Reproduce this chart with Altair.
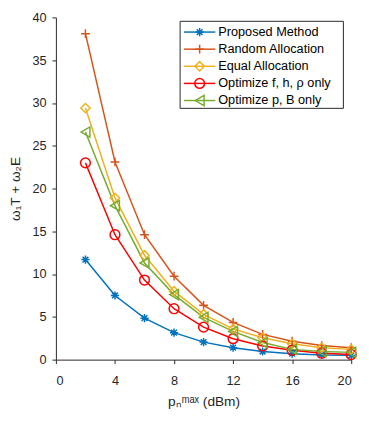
import altair as alt
import pandas as pd

x_vals = [2, 4, 6, 8, 10, 12, 14, 16, 18, 20]
series_names = ["Proposed Method", "Random Allocation", "Equal Allocation",
                "Optimize f, h,  \u03c1 only", "Optimize p, B only"]
proposed = [11.7, 7.5, 4.85, 3.15, 2.05, 1.4, 0.95, 0.7, 0.55, 0.5]
random_alloc = [38.1, 23.1, 14.6, 9.75, 6.35, 4.35, 2.95, 2.15, 1.65, 1.4]
equal_alloc = [29.4, 18.9, 12.2, 8.0, 5.3, 3.6, 2.55, 1.85, 1.4, 1.2]
opt_fhr = [23.0, 14.6, 9.3, 5.95, 3.8, 2.45, 1.6, 1.1, 0.75, 0.6]
opt_pb = [26.6, 18.0, 11.3, 7.6, 4.95, 3.3, 2.0, 1.2, 0.95, 0.85]
x_ticks = [0, 4, 8, 12, 16, 20]
y_ticks = [0, 5, 10, 15, 20, 25, 30, 35, 40]

colors = ["#0072BD", "#D95319", "#EDB120", "#FF0000", "#77AC30"]
asterisk = "M-1,0L1,0M0,-1L0,1M-0.7,-0.7L0.7,0.7M-0.7,0.7L0.7,-0.7"
plus = "M-1,0L1,0M0,-1L0,1"
shapes = [asterisk, plus, "diamond", "circle", "triangle-left"]
sizes = [70, 110, 110, 70, 80]

W, H = 302, 350
XMAX, YMAX = 20, 40

rows = []
for name, vals in zip(series_names, [proposed, random_alloc, equal_alloc, opt_fhr, opt_pb]):
    for xv, yv in zip(x_vals, vals):
        rows.append({"x": xv, "y": yv, "series": name})
df = pd.DataFrame(rows)

xs = alt.Scale(domain=[0, XMAX], nice=False, zero=False)
ys = alt.Scale(domain=[0, YMAX], nice=False, zero=False)
cscale = alt.Scale(domain=series_names, range=colors)
sscale = alt.Scale(domain=series_names, range=shapes)
zscale = alt.Scale(domain=series_names, range=sizes)

font = "Liberation Sans"
axis_col = "#262626"

base = alt.Chart(df)
lines = base.mark_line(strokeWidth=1.5).encode(
    x=alt.X("x:Q", scale=xs,
            axis=alt.Axis(values=x_ticks, grid=False, tickSize=4, labelPadding=11,
                          title="p\u2099\u1d50\u1d43\u02e3 (dBm)", titlePadding=8)),
    y=alt.Y("y:Q", scale=ys,
            axis=alt.Axis(values=y_ticks, grid=False, tickSize=4, labelPadding=6,
                          title="\u03c9\u2081T + \u03c9\u2082E", titlePadding=10)),
    color=alt.Color("series:N", scale=cscale, legend=None),
    detail="series:N",
)
points = base.mark_point(filled=False, strokeWidth=1.5, opacity=1).encode(
    x=alt.X("x:Q", scale=xs),
    y=alt.Y("y:Q", scale=ys),
    color=alt.Color("series:N", scale=cscale, legend=None),
    shape=alt.Shape("series:N", scale=sscale, legend=None),
    size=alt.Size("series:N", scale=zscale, legend=None),
)

# legend (built in data units)
def xu(px):
    return px / W * XMAX

def yu(py):
    return YMAX * (1 - py / H)

bx0, bx1, by0, by1 = 127, 294, 4, 93
row_y = [15 + 17.5 * i for i in range(5)]
leg = pd.DataFrame({
    "series": series_names,
    "lx0": [xu(131)] * 5, "lx1": [xu(163)] * 5, "mx": [xu(147)] * 5,
    "tx": [xu(166)] * 5, "ly": [yu(r) for r in row_y],
})
box = alt.Chart(pd.DataFrame({"a": [xu(bx0)], "b": [xu(bx1)], "c": [yu(by0)], "d": [yu(by1)]})).mark_rect(
    fill="white", stroke=axis_col, strokeWidth=1).encode(
    x=alt.X("a:Q", scale=xs), x2="b:Q", y=alt.Y("c:Q", scale=ys), y2="d:Q")
lb = alt.Chart(leg)
leg_lines = lb.mark_rule(strokeWidth=1.5).encode(
    x=alt.X("lx0:Q", scale=xs), x2="lx1:Q", y=alt.Y("ly:Q", scale=ys),
    color=alt.Color("series:N", scale=cscale, legend=None))
leg_pts = lb.mark_point(filled=False, strokeWidth=1.5, opacity=1).encode(
    x=alt.X("mx:Q", scale=xs), y=alt.Y("ly:Q", scale=ys),
    color=alt.Color("series:N", scale=cscale, legend=None),
    shape=alt.Shape("series:N", scale=sscale, legend=None),
    size=alt.Size("series:N", scale=zscale, legend=None))
leg_txt = lb.mark_text(align="left", baseline="middle", fontSize=13, font=font, color="#000000").encode(
    x=alt.X("tx:Q", scale=xs), y=alt.Y("ly:Q", scale=ys), text="series:N")

chart = alt.layer(lines, points, box, leg_lines, leg_pts, leg_txt).properties(
    width=W, height=H,
    padding={"left": 49, "top": 5, "right": 10, "bottom": 52},
    autosize=alt.AutoSizeParams(type="none"),
).configure_view(stroke=None).configure_axis(
    labelFont=font, titleFont=font, labelFontSize=13, titleFontSize=14,
    labelColor=axis_col, titleColor=axis_col, domainColor=axis_col, tickColor=axis_col,
    titleFontWeight="normal", domainWidth=1, tickWidth=1,
)

chart.save("out.html", embed_options={"renderer": "svg", "actions": False})
